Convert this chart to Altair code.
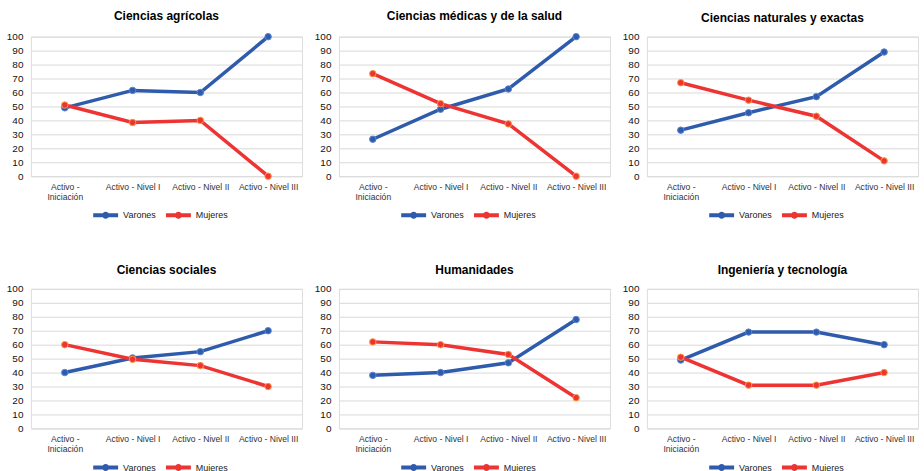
import altair as alt
import pandas as pd

# Categories on the x axis (researcher level)
niveles = ["Activo - Iniciación", "Activo - Nivel I", "Activo - Nivel II", "Activo - Nivel III"]

# Panel titles (knowledge areas)
areas = [
    "Ciencias agrícolas",
    "Ciencias médicas y de la salud",
    "Ciencias naturales y exactas",
    "Ciencias sociales",
    "Humanidades",
    "Ingeniería y tecnología",
]

# Percentages by sex for each area, one value per level
varones_agricolas = [49, 61.5, 60, 100]
mujeres_agricolas = [51, 38.5, 40, 0]
varones_medicas = [26.5, 48, 62.5, 100]
mujeres_medicas = [73.5, 52, 37.5, 0]
varones_naturales = [33, 45.5, 57, 89]
mujeres_naturales = [67, 54.5, 43, 11]
varones_sociales = [40, 50.5, 55, 70]
mujeres_sociales = [60, 49.5, 45, 30]
varones_humanidades = [38, 40, 47, 78]
mujeres_humanidades = [62, 60, 53, 22]
varones_ingenieria = [49, 69, 69, 60]
mujeres_ingenieria = [51, 31, 31, 40]

series = {
    "Ciencias agrícolas": (varones_agricolas, mujeres_agricolas),
    "Ciencias médicas y de la salud": (varones_medicas, mujeres_medicas),
    "Ciencias naturales y exactas": (varones_naturales, mujeres_naturales),
    "Ciencias sociales": (varones_sociales, mujeres_sociales),
    "Humanidades": (varones_humanidades, mujeres_humanidades),
    "Ingeniería y tecnología": (varones_ingenieria, mujeres_ingenieria),
}

rows = []
for area in areas:
    v, m = series[area]
    for i, nivel in enumerate(niveles):
        rows.append({"area": area, "nivel": nivel, "sexo": "Varones", "valor": v[i], "orden": i})
        rows.append({"area": area, "nivel": nivel, "sexo": "Mujeres", "valor": m[i], "orden": i})
df = pd.DataFrame(rows)

BLUE = "#2e5bab"
RED = "#ee3333"
FONT = "Liberation Sans"

# Legend symbol: a short thick line with a dot in the middle (wider than its nominal box)
LEGEND_PATH = "M-2.5,0L2.5,0M0.3,0A0.3,0.3,0,1,1,-0.3,0A0.3,0.3,0,1,1,0.3,0Z"

color = alt.Color(
    "sexo:N",
    scale=alt.Scale(domain=["Varones", "Mujeres"], range=[BLUE, RED]),
    legend=alt.Legend(
        title=None,
        orient="none",
        legendX=68,
        legendY=172,
        direction="horizontal",
        padding=0,
        symbolType=LEGEND_PATH,
        symbolSize=100,
        symbolStrokeWidth=4,
        labelFontSize=9,
        labelFont=FONT,
        labelColor="#222222",
        labelOffset=10.5,
        columnPadding=1,
    ),
)

x = alt.X(
    "nivel:N",
    sort=niveles,
    scale=alt.Scale(padding=0.5),
    axis=alt.Axis(
        title=None,
        labelAngle=0,
        ticks=False,
        domain=False,
        grid=False,
        labelFontSize=8.6,
        labelFont=FONT,
        labelColor="#333333",
        labelPadding=6,
        labelLineHeight=10,
        labelOverlap=False,
        labelExpr="datum.value == 'Activo - Iniciación' ? ['Activo -', 'Iniciación'] : datum.value",
    ),
)

y = alt.Y(
    "valor:Q",
    scale=alt.Scale(domain=[0, 100], nice=False),
    axis=alt.Axis(
        title=None,
        values=list(range(0, 101, 10)),
        ticks=False,
        domain=False,
        gridColor="#d9d9d9",
        gridWidth=1,
        labelFontSize=10,
        labelFont=FONT,
        labelColor="#111111",
        labelPadding=8,
    ),
)


def panel(area):
    base = alt.Chart(df).transform_filter(alt.datum.area == area)
    line = base.mark_line(strokeWidth=3.5).encode(x=x, y=y, color=color, order="orden:Q")
    dots = base.mark_circle(size=42, opacity=1, strokeWidth=1).encode(
        x=x,
        y=y,
        color=color,
        stroke=alt.condition(alt.datum.sexo == "Mujeres", alt.value("#f59a3a"), alt.value("#5b86d2")),
    )
    return alt.layer(line, dots).properties(
        width=272,
        height=140,
        title=alt.Title(area, fontSize=12, fontWeight="bold", font=FONT, color="#000000", offset=7),
    )


chart = (
    alt.concat(*[panel(a) for a in areas], columns=3, spacing={"row": 37, "column": 10})
    .resolve_scale(color="independent")
    .resolve_legend(color="independent")
    .properties(padding={"left": 5, "top": 8, "right": 5, "bottom": 5})
    .configure_view(stroke=None)
    .configure(background="white")
)

chart.save("out.html", embed_options={"renderer": "svg", "actions": False})
